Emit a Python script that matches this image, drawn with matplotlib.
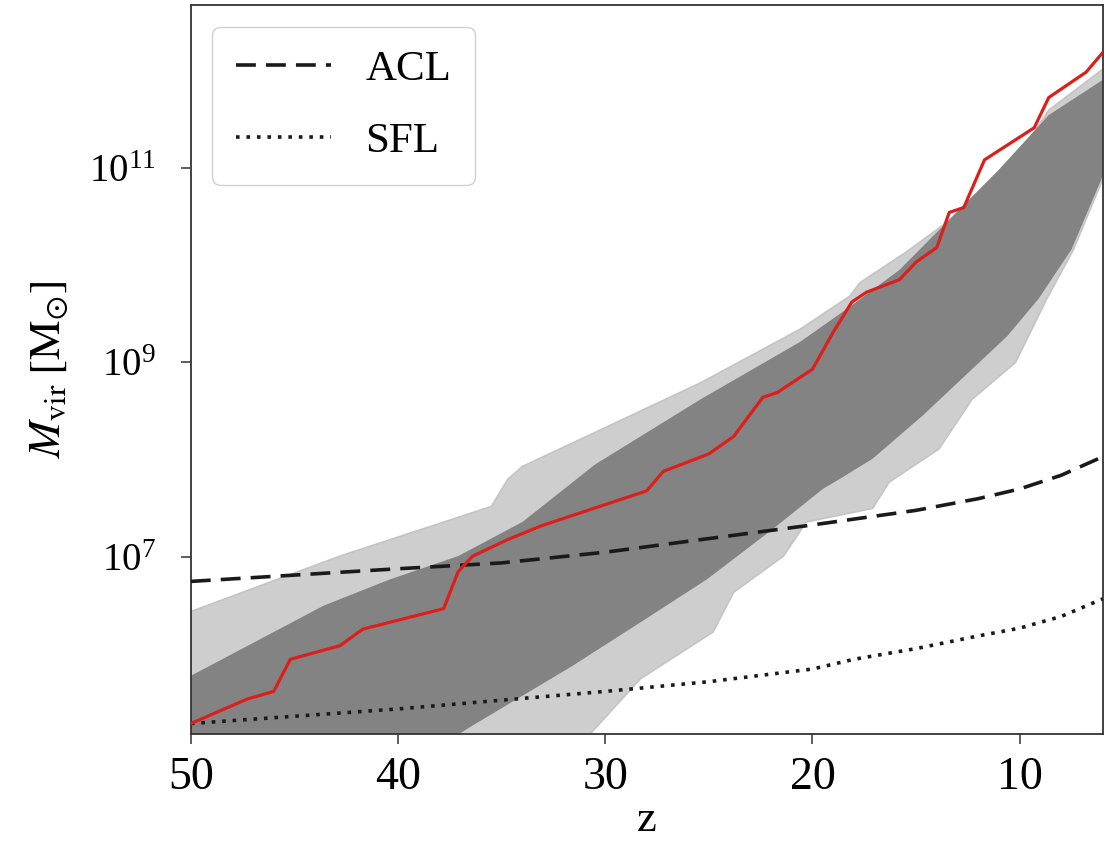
import numpy as np
import matplotlib
matplotlib.use("Agg")
import matplotlib.pyplot as plt

plt.rcParams['font.family'] = ['Liberation Serif', 'DejaVu Serif']
plt.rcParams['mathtext.fontset'] = 'stix'

# envelope of the merger-tree ensemble, log10(M_vir / Msun) vs redshift
z_outer_top = [50.0, 42.8, 35.5, 34.7, 34.0, 30.7, 25.4, 20.6, 18.2, 17.7, 15.5, 13.5, 11.5, 10.2, 8.6, 6.0]
lm_outer_top = [6.44, 7.01, 7.52, 7.80, 7.93, 8.26, 8.79, 9.34, 9.68, 9.82, 10.13, 10.44, 10.85, 11.08, 11.59, 12.01]
z_outer_bot = [50.0, 40.0, 30.7, 28.3, 24.8, 23.8, 21.4, 20.3, 17.1, 16.3, 13.9, 12.3, 10.2, 8.7, 7.4, 6.0]
lm_outer_bot = [4.0, 4.5, 5.19, 5.75, 6.23, 6.64, 7.01, 7.36, 7.50, 7.77, 8.11, 8.62, 9.00, 9.65, 10.16, 10.88]

z_core_top = [50.0, 43.6, 40.4, 37.1, 34.0, 30.5, 25.4, 20.6, 18.2, 15.8, 11.0, 8.6, 6.0]
lm_core_top = [5.78, 6.50, 6.77, 7.01, 7.36, 7.95, 8.62, 9.21, 9.57, 9.95, 10.98, 11.54, 11.90]
z_core_bot = [50.0, 37.0, 36.4, 31.6, 28.3, 25.1, 21.9, 19.5, 18.7, 17.1, 14.7, 12.3, 10.6, 9.1, 7.5, 6.0]
lm_core_bot = [4.5, 5.19, 5.27, 5.88, 6.33, 6.77, 7.29, 7.70, 7.80, 8.01, 8.45, 8.93, 9.27, 9.65, 10.16, 10.91]

# highlighted main-branch history
z_main = [50.0, 47.3, 46.0, 45.2, 42.8, 41.7, 37.8, 37.1, 36.4, 34.7, 33.1, 30.7, 28.0, 27.2, 25.0,
          23.8, 22.4, 21.7, 20.0, 19.0, 18.1, 17.4, 15.8, 15.0, 14.0, 13.4, 12.7, 11.7, 9.3, 8.6, 6.8, 6.0]
lm_main = [5.29, 5.54, 5.62, 5.95, 6.09, 6.26, 6.47, 6.85, 7.01, 7.18, 7.32, 7.49, 7.68, 7.88, 8.06,
           8.24, 8.64, 8.69, 8.93, 9.31, 9.62, 9.72, 9.85, 10.03, 10.18, 10.54, 10.59, 11.08, 11.41, 11.72, 11.98, 12.18]

# atomic cooling limit and star formation limit
z_lim = [50, 40, 35, 30, 25, 20, 18, 15, 12, 10, 8, 6]
lm_acl = [6.75, 6.88, 6.94, 7.05, 7.19, 7.33, 7.39, 7.48, 7.60, 7.70, 7.84, 8.03]
lm_sfl = [5.29, 5.44, 5.53, 5.62, 5.72, 5.85, 5.95, 6.06, 6.19, 6.27, 6.39, 6.57]

fig = plt.figure(figsize=(11.16, 8.43), dpi=100)
ax = fig.add_axes([0.171, 0.129, 0.817, 0.865])

outer_z = np.concatenate([z_outer_top, z_outer_bot[::-1]])
outer_m = 10 ** np.concatenate([lm_outer_top, lm_outer_bot[::-1]])
ax.fill(outer_z, outer_m, color='#cecece', lw=0, zorder=1)
ax.plot(z_outer_top, 10 ** np.array(lm_outer_top), color='#c4c4c4', lw=1.2, zorder=1)
ax.plot(z_outer_bot, 10 ** np.array(lm_outer_bot), color='#c4c4c4', lw=1.2, zorder=1)

core_z = np.concatenate([z_core_top, z_core_bot[::-1]])
core_m = 10 ** np.concatenate([lm_core_top, lm_core_bot[::-1]])
ax.fill(core_z, core_m, color='#838383', lw=0, zorder=2)

ax.plot(z_lim, 10 ** np.array(lm_acl), ls=(0, (5.5, 2.8)), color='#1a1a1a', lw=2.6, label='ACL', zorder=3)
ax.plot(z_lim, 10 ** np.array(lm_sfl), ls=(0, (1, 1.9)), color='#1a1a1a', lw=2.6, label='SFL', zorder=3)
ax.plot(z_main, 10 ** np.array(lm_main), color='#dd1f1c', lw=2.3, zorder=4)

ax.set_yscale('log')
ax.set_xlim(50, 6)
ax.set_ylim(10 ** 5.18, 10 ** 12.67)
ax.set_xticks([50, 40, 30, 20, 10])
ax.set_yticks([1e7, 1e9, 1e11])
ax.minorticks_off()
ax.tick_params(length=7, width=1.1, color='#333333')
ax.tick_params(axis='x', labelsize=33, pad=9)
ax.tick_params(axis='y', labelsize=28, pad=18)
for sp in ax.spines.values():
    sp.set_color('#333333')
    sp.set_linewidth(1.3)

ax.set_xlabel('z', fontsize=32, labelpad=1)
ax.set_ylabel(r'$M_{\rm vir}\;[{\rm M}_{\odot}]$', fontsize=32, labelpad=14)

ax.legend(loc='upper left', fontsize=31, handlelength=2.2, borderpad=0.55,
          labelspacing=0.75, handletextpad=0.8, framealpha=1, edgecolor='#d0d0d0')

fig.savefig('out.png', dpi=100)
